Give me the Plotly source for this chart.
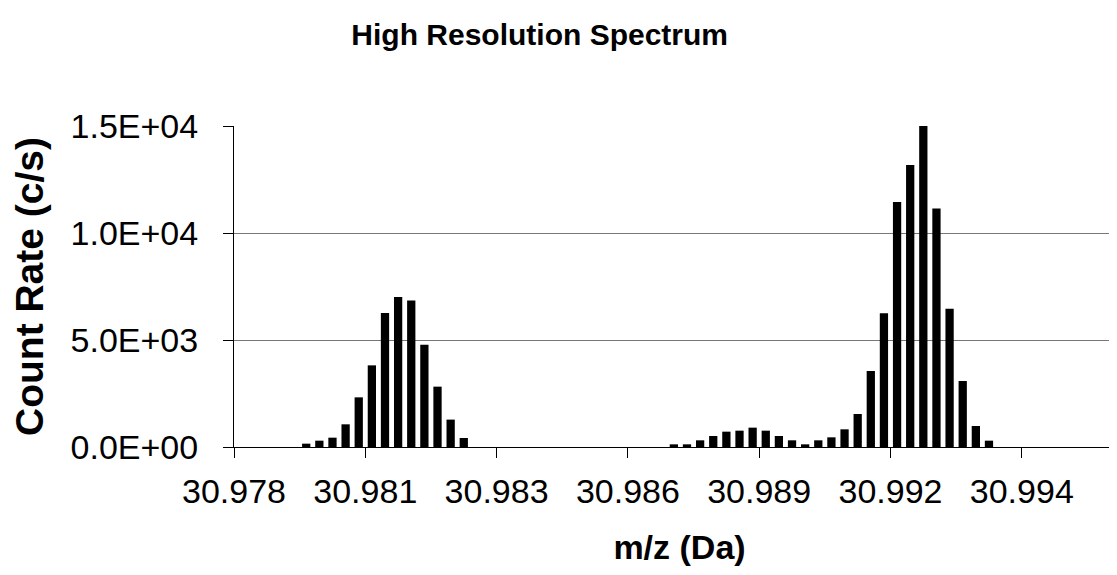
import plotly.graph_objects as go

# ---- data ----
bin_start_mz = 30.978          # left edge of first bin (Da)
bin_width_mz = 0.00027         # bin width (Da)
counts = [
    0, 0, 0, 0, 0,
    156, 296, 436, 1060, 2320, 3815, 6260, 7010, 6850, 4780, 2820, 1280, 420,
    0, 0, 0, 0, 0, 0, 0, 0, 0, 0, 0, 0, 0, 0, 0,
    125, 125, 312, 514, 717, 763, 904, 763, 514, 312, 125, 312, 452, 826, 1543,
    3553, 6248, 11452, 13183, 15000, 11140, 6466, 3085, 982, 296,
    0, 0, 0, 0, 0, 0, 0, 0, 0,
]
x_tick_values = [30.978, 30.9807, 30.9834, 30.9861, 30.9888, 30.9915, 30.9942]
x_tick_labels = ["30.978", "30.981", "30.983", "30.986", "30.989", "30.992", "30.994"]
y_tick_values = [0, 5000, 10000, 15000]
y_tick_labels = ["0.0E+00", "5.0E+03", "1.0E+04", "1.5E+04"]

mz = [bin_start_mz + bin_width_mz * (i + 0.5) for i in range(len(counts))]

W, H = 1117, 575
L, R, T, B = 226, 0, 118, 136
plot_w = W - L - R
x_max = bin_start_mz + bin_width_mz * (plot_w / 13.13)

FONT = "Arial, Liberation Sans, Helvetica, sans-serif"

fig = go.Figure(
    go.Bar(
        x=mz,
        y=counts,
        width=bin_width_mz * 0.63,
        marker=dict(color="black", line=dict(width=0)),
        showlegend=False,
    )
)

fig.update_layout(
    width=W,
    height=H,
    margin=dict(l=L, r=R, t=T, b=B, autoexpand=False),
    paper_bgcolor="white",
    plot_bgcolor="white",
    font=dict(family=FONT, color="black"),
    title=dict(
        text="<b>High Resolution Spectrum</b>",
        font=dict(size=30, family=FONT, color="black"),
        x=0.476,
        xanchor="center",
        xref="container",
        y=1 - 26 / H,
        yanchor="middle",
        yref="container",
    ),
)

fig.update_xaxes(
    range=[bin_start_mz, x_max],
    tickmode="array",
    tickvals=x_tick_values,
    ticktext=x_tick_labels,
    ticks="outside",
    ticklen=10,
    tickwidth=1,
    tickcolor="black",
    tickfont=dict(size=34, family=FONT),
    ticklabelstandoff=4,
    showline=True,
    linecolor="black",
    linewidth=1,
    showgrid=False,
    zeroline=False,
    title=dict(text="<b>m/z (Da)</b>", font=dict(size=34, family=FONT), standoff=26),
)

fig.update_yaxes(
    range=[0, 15000],
    tickmode="array",
    tickvals=y_tick_values,
    ticktext=y_tick_labels,
    ticks="outside",
    ticklen=10,
    tickwidth=1,
    tickcolor="black",
    tickfont=dict(size=34, family=FONT),
    ticklabelstandoff=18,
    showline=True,
    linecolor="black",
    linewidth=1,
    showgrid=True,
    gridcolor="#777777",
    gridwidth=1,
    zeroline=False,
    title=dict(text="<b>Count Rate (c/s)</b>", font=dict(size=39, family=FONT), standoff=16),
)

fig.write_html("out.html")
